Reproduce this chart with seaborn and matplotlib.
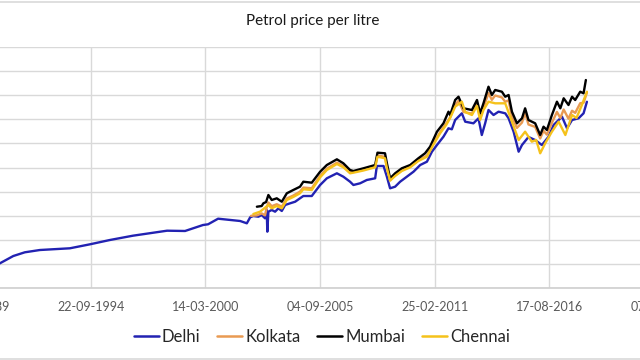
import numpy as np
import pandas as pd
import matplotlib
matplotlib.use("Agg")
import matplotlib.pyplot as plt
from matplotlib.lines import Line2D
import seaborn as sns

# ---------------- data (decimal year, Rs per litre) ----------------
delhi_t = [1989.91, 1990.39, 1991.03, 1991.58, 1992.30, 1993.73, 1994.69, 1995.64,
           1996.74, 1998.37, 1999.23, 2000.09, 2000.33, 2000.81, 2001.86, 2002.18,
           2002.34, 2002.49, 2002.73, 2002.89, 2003.05, 2003.13, 2003.16, 2003.21,
           2003.37, 2003.53, 2003.69, 2003.85, 2004.01, 2004.25, 2004.49, 2004.72,
           2004.88, 2005.28, 2005.68, 2006.00, 2006.48, 2006.79, 2007.11, 2007.27,
           2007.59, 2007.91, 2008.31, 2008.39, 2008.71, 2008.87, 2009.02, 2009.26,
           2009.50, 2009.82, 2010.14, 2010.46, 2010.78, 2011.02, 2011.26, 2011.57,
           2011.81, 2011.97, 2012.13, 2012.45, 2012.61, 2013.00, 2013.24, 2013.40,
           2013.56, 2013.72, 2013.96, 2014.20, 2014.52, 2014.68, 2014.92, 2015.16,
           2015.32, 2015.63, 2015.95, 2016.27, 2016.59, 2016.83, 2017.23, 2017.47,
           2017.71, 2018.02, 2018.26, 2018.42]
delhi_v = [8.2, 10.35, 13.37, 14.90, 15.85, 16.56, 18.21, 19.99,
           21.77, 23.84, 23.72, 26.20, 26.49, 28.81, 27.86, 26.90,
           29.39, 29.93, 29.64, 30.34, 28.97, 32.41, 23.43, 31.71,
           32.41, 31.71, 33.11, 32.00, 34.48, 35.18, 35.84, 37.25,
           38.20, 38.20, 42.76, 45.53, 47.60, 46.19, 44.12, 42.76,
           43.46, 44.83, 45.53, 50.62, 50.62, 46.19, 41.39, 42.05,
           44.12, 46.19, 48.26, 51.03, 52.40, 56.54, 59.31, 62.75,
           66.23, 65.81, 69.66, 72.43, 68.96, 68.29, 70.36, 63.45,
           68.29, 73.80, 71.73, 73.10, 72.43, 70.36, 64.82, 56.54,
           59.31, 62.62, 61.38, 59.31, 62.75, 67.59, 71.03, 66.23,
           69.66, 70.36, 72.43, 77.20]

mumbai_t = [2002.66, 2002.89, 2002.97, 2003.10, 2003.21, 2003.37, 2003.61, 2003.85,
            2004.09, 2004.40, 2004.72, 2004.88, 2005.28, 2005.68, 2006.00, 2006.48,
            2006.79, 2007.11, 2007.27, 2007.75, 2008.31, 2008.42, 2008.78, 2008.87,
            2009.02, 2009.26, 2009.58, 2009.98, 2010.37, 2010.69, 2010.93, 2011.26,
            2011.57, 2011.81, 2011.89, 2012.13, 2012.29, 2012.53, 2012.93, 2013.17,
            2013.32, 2013.48, 2013.72, 2013.88, 2014.04, 2014.36, 2014.52, 2014.68,
            2014.84, 2015.08, 2015.32, 2015.47, 2015.63, 2015.95, 2016.19, 2016.35,
            2016.51, 2016.75, 2016.99, 2017.15, 2017.31, 2017.54, 2017.71, 2017.86,
            2018.10, 2018.26, 2018.37]
mumbai_v = [33.77, 34.06, 35.18, 35.70, 38.62, 36.55, 37.25, 35.84,
            39.32, 40.69, 42.05, 44.12, 43.71, 48.26, 51.03, 53.39,
            51.74, 48.96, 48.55, 49.67, 51.03, 56.13, 55.88, 51.74,
            45.53, 47.60, 49.67, 51.03, 53.81, 55.88, 58.61, 64.82,
            68.29, 73.10, 71.73, 77.94, 79.30, 74.50, 73.80, 77.94,
            72.43, 76.57, 83.44, 80.01, 82.08, 81.37, 79.30, 80.01,
            73.10, 68.29, 70.36, 74.50, 69.66, 68.29, 63.45, 66.89,
            65.52, 71.73, 77.24, 74.50, 78.64, 75.87, 79.30, 77.94,
            81.37, 80.71, 86.21]

chennai_t = [2002.49, 2002.81, 2002.97, 2003.21, 2003.37, 2003.61, 2003.85, 2004.09,
             2004.40, 2004.72, 2004.88, 2005.28, 2005.68, 2006.00, 2006.48, 2006.79,
             2007.11, 2007.27, 2007.75, 2008.31, 2008.42, 2008.78, 2008.87, 2009.02,
             2009.26, 2009.58, 2009.98, 2010.37, 2010.78, 2011.08, 2011.41, 2011.70,
             2011.89, 2012.13, 2012.45, 2012.61, 2012.93, 2013.17, 2013.32, 2013.48,
             2013.72, 2014.04, 2014.52, 2014.84, 2015.16, 2015.47, 2015.79, 2016.00,
             2016.19, 2016.43, 2016.75, 2017.07, 2017.39, 2017.71, 2017.92, 2018.18,
             2018.42]
chennai_v = [30.75, 31.71, 32.80, 34.48, 33.11, 34.06, 33.11, 36.55,
             37.80, 39.32, 40.98, 40.69, 45.94, 48.96, 51.45, 50.08,
             47.60, 47.85, 48.76, 50.08, 54.47, 53.81, 49.79, 44.54,
             46.48, 48.55, 50.08, 52.69, 54.47, 59.31, 64.16, 67.59,
             70.49, 75.17, 77.24, 72.97, 71.73, 75.46, 69.66, 73.80,
             77.24, 76.57, 76.57, 68.96, 61.38, 64.82, 60.68, 61.38,
             55.88, 60.02, 64.82, 68.96, 63.45, 71.73, 70.49, 75.87,
             81.37]

kolkata_t = [2002.38, 2002.66, 2002.89, 2003.05, 2003.13, 2003.21, 2003.37, 2003.61,
             2003.85, 2004.09, 2004.40, 2004.72, 2004.88, 2005.28, 2005.68, 2006.00,
             2006.48, 2006.79, 2007.11, 2007.27, 2007.75, 2008.31, 2008.42, 2008.78,
             2008.87, 2009.02, 2009.26, 2009.58, 2009.98, 2010.37, 2010.78, 2011.08,
             2011.41, 2011.70, 2011.89, 2012.13, 2012.29, 2012.53, 2012.93, 2013.17,
             2013.32, 2013.48, 2013.72, 2013.88, 2014.04, 2014.36, 2014.52, 2014.68,
             2014.84, 2015.08, 2015.32, 2015.47, 2015.63, 2015.95, 2016.19, 2016.35,
             2016.51, 2016.75, 2016.99, 2017.15, 2017.31, 2017.54, 2017.71, 2017.86,
             2018.10, 2018.26, 2018.42]
kolkata_v = [30.0, 30.2, 31.0, 30.2, 33.4, 35.5, 34.0, 34.8,
             33.8, 37.2, 38.4, 40.0, 41.7, 41.4, 46.6, 49.5,
             52.0, 50.6, 48.1, 48.2, 49.1, 50.4, 55.0, 54.4,
             50.2, 44.8, 46.8, 48.9, 50.4, 53.0, 54.9, 59.8,
             64.6, 68.2, 70.8, 76.0, 77.6, 73.0, 72.3, 76.2,
             70.8, 74.8, 80.8, 78.0, 79.8, 79.0, 77.2, 77.8,
             71.0, 66.4, 68.6, 72.6, 67.8, 66.8, 62.0, 65.2,
             63.6, 68.5, 73.0, 70.5, 74.0, 70.2, 73.5, 72.6,
             76.6, 76.8, 81.0]

cities = ["Delhi", "Kolkata", "Mumbai", "Chennai"]
colors = ["#2222B2", "#E99A52", "#000000", "#F5C21B"]
tick_start = "1989-04-01"
n_ticks = 7
y_max = 100
y_step = 10
title = "Petrol price per litre"


def to_date(years):
    out = []
    for y in years:
        yi = int(y)
        out.append(pd.Timestamp(year=yi, month=1, day=1) + pd.Timedelta(days=(y - yi) * 365.25))
    return out


series = {"Delhi": (delhi_t, delhi_v), "Kolkata": (kolkata_t, kolkata_v),
          "Mumbai": (mumbai_t, mumbai_v), "Chennai": (chennai_t, chennai_v)}
frames = []
for c in cities:
    t, v = series[c]
    frames.append(pd.DataFrame({"date": to_date(t), "price": v, "city": c}))
df = pd.concat(frames, ignore_index=True)

# ---------------- plot ----------------
sns.set_theme(style="white")
plt.rcParams["font.family"] = ["Lato", "DejaVu Sans"]

fig = plt.figure(figsize=(6.4, 3.6), dpi=100)
ax = fig.add_axes([-24 / 640, 1 - 288.3 / 360, 688 / 640, (288.3 - 46.7) / 360])

sns.lineplot(data=df, x="date", y="price", hue="city", hue_order=cities,
             palette=dict(zip(cities, colors)), estimator=None, linewidth=1.7,
             ax=ax, legend=False)

ticks = pd.date_range(start=tick_start, periods=n_ticks, freq="2000D")
ax.set_xlim(ticks[0], ticks[-1])
ax.set_xticks(ticks)
ax.set_xticklabels([d.strftime("%d-%m-%Y") for d in ticks], fontsize=9, color="#595959")
ax.set_ylim(0, y_max)
ax.set_yticks(np.arange(0, y_max + 1, y_step))
ax.tick_params(axis="both", length=0)
ax.tick_params(axis="x", pad=9)
ax.set_yticklabels([])
ax.grid(True, color="#D9D9D9", linewidth=1)
ax.set_axisbelow(True)
for s in ["top", "right", "left"]:
    ax.spines[s].set_visible(False)
ax.spines["bottom"].set_color("#D0D0D0")
ax.set_xlabel("")
ax.set_ylabel("")

fig.text(313 / 640, 1 - 21 / 360, title, ha="center", va="center",
         fontsize=11, color="#1A1A1A")

handles = [Line2D([0], [0], color=c, lw=1.8) for c in colors]
fig.legend(handles, cities, loc="center", bbox_to_anchor=(322 / 640, 1 - 336.5 / 360),
           ncol=4, frameon=False, fontsize=12, handlelength=1.5, handletextpad=0.2,
           columnspacing=1.0, labelcolor="#262626")

# chart border (top and bottom visible in crop)
fig.add_artist(Line2D([0, 1], [1 - 1.5 / 360, 1 - 1.5 / 360], color="#D9D9D9", lw=1.2,
                      transform=fig.transFigure))
fig.add_artist(Line2D([0, 1], [1.5 / 360, 1.5 / 360], color="#D9D9D9", lw=1.2,
                      transform=fig.transFigure))

fig.savefig("out.png", dpi=100)
